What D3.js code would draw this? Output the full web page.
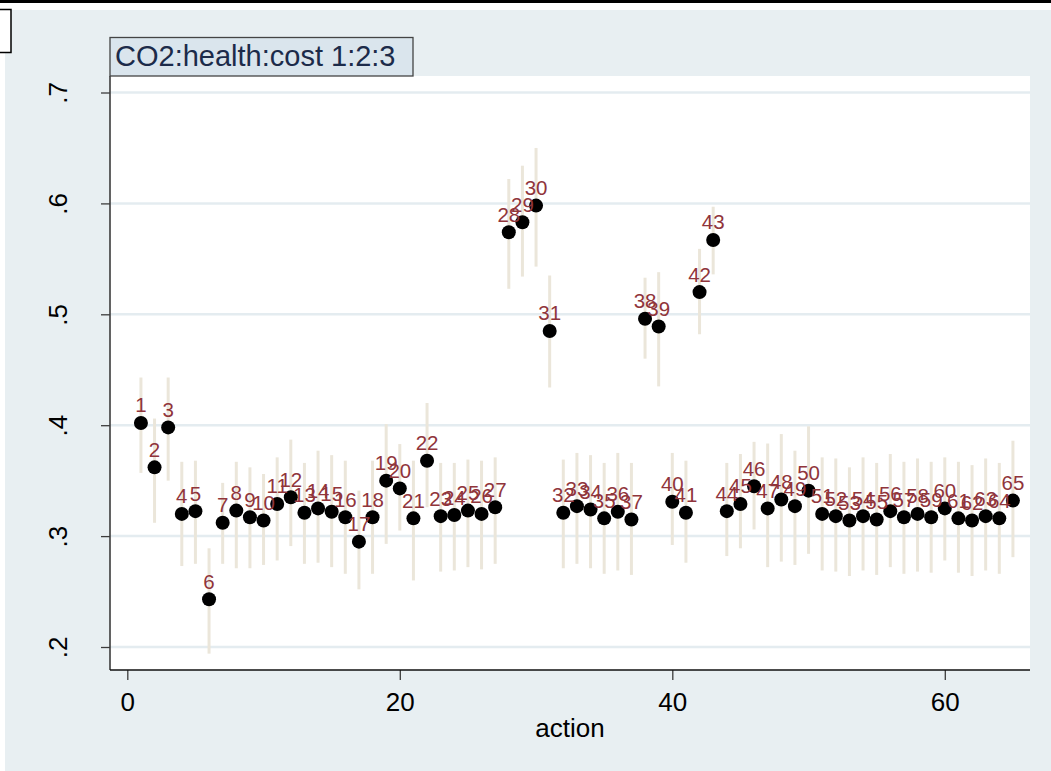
<!DOCTYPE html>
<html>
<head>
<meta charset="utf-8">
<script src="https://cdn.jsdelivr.net/npm/d3@7"></script>
<style>
  body { margin: 0; background: #fff; }
  text { font-family: "Liberation Sans", Arial, sans-serif; }
</style>
</head>
<body>
<div id="main-chart"></div>
<script>
const width = 1051;
const height = 771;

const actions = [
  1, 2, 3, 4, 5, 6, 7, 8, 9, 10, 11, 12, 13, 14, 15, 16, 17, 18, 19, 20,
  21, 22, 23, 24, 25, 26, 27, 28, 29, 30, 31, 32, 33, 34, 35, 36, 37, 38, 39, 40,
  41, 42, 43, 44, 45, 46, 47, 48, 49, 50, 51, 52, 53, 54, 55, 56, 57, 58, 59, 60,
  61, 62, 63, 64, 65,
];

const estimates = [
  0.402, 0.362, 0.398, 0.32, 0.3225, 0.243, 0.312, 0.323, 0.317, 0.314,
  0.329, 0.335, 0.321, 0.325, 0.322, 0.317, 0.295, 0.317, 0.35, 0.343,
  0.316, 0.368, 0.318, 0.319, 0.323, 0.32, 0.326, 0.574, 0.583, 0.598,
  0.485, 0.321, 0.327, 0.324, 0.316, 0.322, 0.315, 0.496, 0.489, 0.331,
  0.321, 0.52, 0.567, 0.3225, 0.329, 0.345, 0.325, 0.333, 0.327, 0.341,
  0.32, 0.318, 0.314, 0.318, 0.315, 0.3225, 0.317, 0.32, 0.317, 0.325,
  0.316, 0.314, 0.318, 0.316, 0.332,
];

const lower = [
  0.357, 0.312, 0.35, 0.273, 0.275, 0.194, 0.275, 0.271, 0.271, 0.274,
  0.278, 0.291, 0.275, 0.276, 0.272, 0.266, 0.252, 0.266, 0.293, 0.305,
  0.26, 0.326, 0.268, 0.269, 0.272, 0.27, 0.275, 0.523, 0.534, 0.543,
  0.434, 0.271, 0.275, 0.271, 0.266, 0.269, 0.265, 0.46, 0.435, 0.292,
  0.276, 0.482, 0.536, 0.282, 0.289, 0.306, 0.272, 0.277, 0.274, 0.284,
  0.269, 0.268, 0.264, 0.269, 0.265, 0.272, 0.266, 0.268, 0.267, 0.278,
  0.267, 0.264, 0.269, 0.266, 0.281,
];

const upper = [
  0.443, 0.406, 0.443, 0.367, 0.368, 0.289, 0.348, 0.367, 0.362, 0.356,
  0.371, 0.387, 0.366, 0.377, 0.373, 0.368, 0.341, 0.368, 0.401, 0.383,
  0.368, 0.42, 0.366, 0.366, 0.369, 0.368, 0.371, 0.622, 0.634, 0.65,
  0.535, 0.369, 0.375, 0.373, 0.366, 0.375, 0.366, 0.533, 0.538, 0.375,
  0.368, 0.559, 0.597, 0.366, 0.374, 0.385, 0.3835, 0.392, 0.377, 0.399,
  0.371, 0.37, 0.362, 0.371, 0.366, 0.374, 0.367, 0.37, 0.367, 0.371,
  0.367, 0.364, 0.37, 0.366, 0.386,
];

const xTicks = [0, 20, 40, 60];
const yTicks = [0.2, 0.3, 0.4, 0.5, 0.6, 0.7];
const titleText = "CO2:health:cost 1:2:3";
const xTitle = "action";

const plot = { left: 110, right: 1030, top: 76, bottom: 670 };
const bgColor = "#e8eff2";
const gridColor = "#e4ecf0";
const ciColor = "#ebe6da";
const labelColor = "#90353b";
const axisColor = "#3c3c3c";

const data = actions.map((a, i) => ({
  action: a,
  est: estimates[i],
  lo: lower[i],
  hi: upper[i],
}));

const x = d3.scaleLinear().domain([0, 60]).range([127.3, 944.8]);
const y = d3.scaleLinear().domain([0.2, 0.7]).range([647, 92.5]);

const svg = d3
  .select("#main-chart")
  .append("svg")
  .attr("width", width)
  .attr("height", height);

// outer frame bits
svg.append("rect").attr("width", width).attr("height", height).attr("fill", "#fff");
svg.append("rect").attr("x", 0).attr("y", 0).attr("width", width).attr("height", 3).attr("fill", "#000");
svg
  .append("rect")
  .attr("x", 5)
  .attr("y", 10)
  .attr("width", width - 5)
  .attr("height", height - 10)
  .attr("fill", bgColor);
svg
  .append("rect")
  .attr("x", -1)
  .attr("y", 9.5)
  .attr("width", 12)
  .attr("height", 43)
  .attr("fill", "#fff")
  .attr("stroke", "#000")
  .attr("stroke-width", 1.5);

// plot region
svg
  .append("rect")
  .attr("x", plot.left)
  .attr("y", plot.top)
  .attr("width", plot.right - plot.left)
  .attr("height", plot.bottom - plot.top)
  .attr("fill", "#fff");

svg
  .append("g")
  .selectAll("line")
  .data(yTicks)
  .join("line")
  .attr("x1", plot.left)
  .attr("x2", plot.right)
  .attr("y1", (d) => y(d))
  .attr("y2", (d) => y(d))
  .attr("stroke", gridColor)
  .attr("stroke-width", 2.5);

// confidence intervals
svg
  .append("g")
  .selectAll("line")
  .data(data)
  .join("line")
  .attr("x1", (d) => x(d.action))
  .attr("x2", (d) => x(d.action))
  .attr("y1", (d) => y(d.lo))
  .attr("y2", (d) => y(d.hi))
  .attr("stroke", ciColor)
  .attr("stroke-width", 3);

// points
svg
  .append("g")
  .selectAll("circle")
  .data(data)
  .join("circle")
  .attr("cx", (d) => x(d.action))
  .attr("cy", (d) => y(d.est))
  .attr("r", 7)
  .attr("fill", "#000");

// marker labels (12 o'clock, they overlap like in the original)
svg
  .append("g")
  .selectAll("text")
  .data(data)
  .join("text")
  .attr("x", (d) => x(d.action))
  .attr("y", (d) => y(d.est) - 10.5)
  .attr("text-anchor", "middle")
  .attr("font-size", 20.5)
  .attr("fill", labelColor)
  .text((d) => d.action);

// axes
const yAxis = svg
  .append("g")
  .attr("transform", `translate(${plot.left},0)`)
  .call(
    d3
      .axisLeft(y)
      .tickValues(yTicks)
      .tickSize(9)
      .tickFormat((d) => d3.format(".1f")(d).replace(/^0/, ""))
  );
yAxis.select(".domain").remove();
yAxis.selectAll(".tick line").attr("stroke", axisColor).attr("stroke-width", 1.3);
yAxis
  .selectAll(".tick text")
  .attr("transform", "rotate(-90)")
  .attr("x", 0)
  .attr("y", -43)
  .attr("dy", 0)
  .attr("text-anchor", "middle")
  .attr("font-size", 26)
  .attr("font-family", "Liberation Sans, Arial, sans-serif")
  .attr("fill", "#000");

const xAxis = svg
  .append("g")
  .attr("transform", `translate(0,${plot.bottom})`)
  .call(d3.axisBottom(x).tickValues(xTicks).tickSize(10));
xAxis.select(".domain").remove();
xAxis.selectAll(".tick line").attr("stroke", axisColor).attr("stroke-width", 1.3);
xAxis
  .selectAll(".tick text")
  .attr("y", 40.7)
  .attr("dy", 0)
  .attr("font-size", 26)
  .attr("font-family", "Liberation Sans, Arial, sans-serif")
  .attr("fill", "#000");

svg
  .append("line")
  .attr("x1", plot.left)
  .attr("x2", plot.left)
  .attr("y1", plot.top)
  .attr("y2", plot.bottom)
  .attr("stroke", axisColor)
  .attr("stroke-width", 1.6);
svg
  .append("line")
  .attr("x1", plot.left)
  .attr("x2", plot.right)
  .attr("y1", plot.bottom)
  .attr("y2", plot.bottom)
  .attr("stroke", "#111")
  .attr("stroke-width", 1.6);

svg
  .append("text")
  .attr("x", (plot.left + plot.right) / 2)
  .attr("y", 737)
  .attr("text-anchor", "middle")
  .attr("font-size", 26)
  .attr("fill", "#000")
  .text(xTitle);

// title box
svg
  .append("rect")
  .attr("x", 110)
  .attr("y", 37.5)
  .attr("width", 303)
  .attr("height", 38.5)
  .attr("fill", "#dae5ed")
  .attr("stroke", "#444")
  .attr("stroke-width", 1.3);
svg
  .append("text")
  .attr("x", 115)
  .attr("y", 65.5)
  .attr("font-size", 29)
  .attr("fill", "#1c2b4a")
  .text(titleText);
</script>
</body>
</html>
